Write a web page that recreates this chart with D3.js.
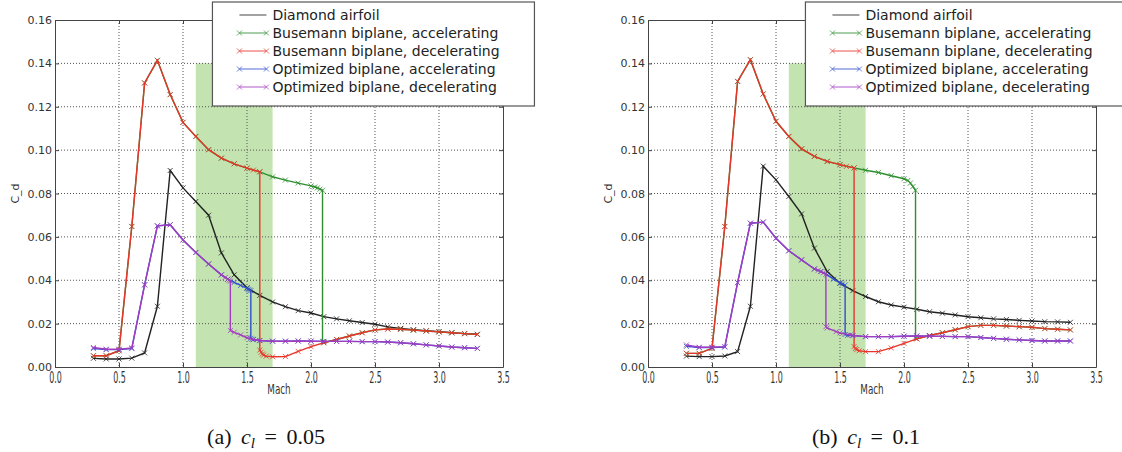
<!doctype html>
<html>
<head>
<meta charset="utf-8">
<title>Drag coefficient vs Mach</title>
<script src="https://cdnjs.cloudflare.com/ajax/libs/d3/7.8.5/d3.min.js"></script>
<style>
  body { margin: 0; background: #fff; }
  svg { display: block; font-family: "DejaVu Sans", sans-serif; }
</style>
</head>
<body>
<div id="chart-area"></div>
<script>
// ---- data ----
var xTicks = [0.0, 0.5, 1.0, 1.5, 2.0, 2.5, 3.0, 3.5];
var yTicks = [0.00, 0.02, 0.04, 0.06, 0.08, 0.10, 0.12, 0.14, 0.16];
var shadeBand = [1.1, 1.7, 0.14];   // Mach from, Mach to, Cd top

var seriesNames = ["Diamond airfoil", "Busemann biplane, accelerating", "Busemann biplane, decelerating",
                   "Optimized biplane, accelerating", "Optimized biplane, decelerating"];
var seriesColors = ["#222222", "#2f8f2f", "#e8352a", "#3050d0", "#a23cc0"];
var captions = ["(a)", "(b)"];
var captionValues = ["0.05", "0.1"];

var machSweep = [0.3,0.4,0.5,0.6,0.7,0.8,0.9,1.0,1.1,1.2,1.3,1.4,1.5,1.6,1.7,1.8,1.9,2.0,2.1,2.2,2.3,2.4,2.5,2.6,2.7,2.8,2.9,3.0,3.1,3.2,3.3];

// panel (a) cl = 0.05
var diamondA = [0.0040,0.0037,0.0037,0.0041,0.0065,0.0280,0.0906,0.0826,0.0763,0.0700,0.0526,0.0425,0.0365,0.0330,0.0300,0.0278,0.0260,0.0249,0.0232,0.0222,0.0213,0.0205,0.0197,0.0185,0.0178,0.0172,0.0167,0.0163,0.0158,0.0154,0.0151];
var busAccMachA = [0.3,0.4,0.5,0.6,0.7,0.8,0.9,1.0,1.1,1.2,1.3,1.4,1.5,1.6,1.7,1.8,1.9,2.0,2.03,2.05,2.07,2.09,2.09,2.1,2.2,2.3,2.4,2.5,2.6,2.7,2.8,2.9,3.0,3.1,3.2,3.3];
var busAccA = [0.0052,0.0052,0.0075,0.0648,0.1310,0.1414,0.1256,0.1128,0.1063,0.1002,0.0963,0.0937,0.0917,0.0900,0.0877,0.0862,0.0848,0.0835,0.0830,0.0826,0.0820,0.0815,0.0117,0.0112,0.0127,0.0143,0.0158,0.0171,0.0175,0.0174,0.0170,0.0166,0.0162,0.0158,0.0154,0.0150];
var busDecMachA = [0.3,0.4,0.5,0.6,0.7,0.8,0.9,1.0,1.1,1.2,1.3,1.4,1.5,1.55,1.6,1.6,1.61,1.62,1.63,1.65,1.7,1.8,1.9,2.0,2.1,2.2,2.3,2.4,2.5,2.6,2.7,2.8,2.9,3.0,3.1,3.2,3.3];
var busDecA = [0.0052,0.0052,0.0075,0.0648,0.1310,0.1414,0.1256,0.1128,0.1063,0.1002,0.0963,0.0937,0.0917,0.0908,0.0900,0.0078,0.0068,0.0060,0.0055,0.0050,0.0047,0.0048,0.0072,0.0094,0.0112,0.0127,0.0143,0.0158,0.0171,0.0175,0.0174,0.0170,0.0166,0.0162,0.0158,0.0154,0.0150];
var optAccMachA = [0.3,0.4,0.5,0.6,0.7,0.8,0.9,1.0,1.1,1.2,1.3,1.35,1.4,1.45,1.5,1.51,1.52,1.53,1.53,1.54,1.55,1.6,1.7,1.8,1.9,2.0,2.1,2.2,2.3,2.4,2.5,2.6,2.7,2.8,2.9,3.0,3.1,3.2,3.3];
var optAccA = [0.0085,0.0080,0.0080,0.0085,0.0379,0.0651,0.0656,0.0586,0.0528,0.0475,0.0425,0.0405,0.0390,0.0376,0.0362,0.0358,0.0355,0.0352,0.0132,0.0128,0.0126,0.0122,0.0119,0.0119,0.0120,0.0119,0.0118,0.0118,0.0118,0.0117,0.0117,0.0115,0.0112,0.0107,0.0102,0.0097,0.0092,0.0089,0.0086];
var optDecMachA = [0.3,0.4,0.5,0.6,0.7,0.8,0.9,1.0,1.1,1.2,1.3,1.33,1.35,1.36,1.37,1.37,1.4,1.45,1.5,1.55,1.6,1.7,1.8,1.9,2.0,2.1,2.2,2.3,2.4,2.5,2.6,2.7,2.8,2.9,3.0,3.1,3.2,3.3];
var optDecA = [0.0090,0.0082,0.0082,0.0088,0.0379,0.0651,0.0656,0.0586,0.0528,0.0475,0.0425,0.0413,0.0405,0.0400,0.0396,0.0168,0.0160,0.0148,0.0135,0.0127,0.0122,0.0119,0.0119,0.0120,0.0119,0.0118,0.0118,0.0118,0.0117,0.0117,0.0115,0.0112,0.0107,0.0102,0.0097,0.0092,0.0089,0.0086];

// panel (b) cl = 0.1
var diamondB = [0.0050,0.0048,0.0048,0.0051,0.0071,0.0280,0.0926,0.0863,0.0786,0.0706,0.0548,0.0440,0.0386,0.0352,0.0325,0.0301,0.0286,0.0276,0.0266,0.0255,0.0248,0.0240,0.0232,0.0227,0.0222,0.0219,0.0215,0.0212,0.0209,0.0208,0.0206];
var busAccMachB = [0.3,0.4,0.5,0.6,0.7,0.8,0.9,1.0,1.1,1.2,1.3,1.4,1.5,1.61,1.7,1.8,1.9,2.0,2.03,2.05,2.07,2.09,2.09,2.1,2.2,2.3,2.4,2.5,2.6,2.7,2.8,2.9,3.0,3.1,3.2,3.3];
var busAccB = [0.0063,0.0063,0.0086,0.0648,0.1317,0.1417,0.1259,0.1133,0.1063,0.1006,0.0971,0.0948,0.0933,0.0918,0.0907,0.0897,0.0882,0.0868,0.0860,0.0848,0.0832,0.0815,0.0132,0.0130,0.0145,0.0158,0.0172,0.0186,0.0192,0.0192,0.0189,0.0186,0.0183,0.0177,0.0174,0.0171];
var busDecMachB = [0.3,0.4,0.5,0.6,0.7,0.8,0.9,1.0,1.1,1.2,1.3,1.4,1.5,1.55,1.61,1.61,1.62,1.63,1.65,1.7,1.8,1.9,2.0,2.1,2.2,2.3,2.4,2.5,2.6,2.7,2.8,2.9,3.0,3.1,3.2,3.3];
var busDecB = [0.0063,0.0063,0.0086,0.0648,0.1317,0.1417,0.1259,0.1133,0.1063,0.1006,0.0971,0.0948,0.0933,0.0925,0.0918,0.0094,0.0085,0.0080,0.0075,0.0071,0.0071,0.0088,0.0109,0.0130,0.0145,0.0158,0.0172,0.0186,0.0192,0.0192,0.0189,0.0186,0.0183,0.0177,0.0174,0.0171];
var optAccMachB = [0.3,0.4,0.5,0.6,0.7,0.8,0.9,1.0,1.1,1.2,1.3,1.35,1.4,1.45,1.5,1.52,1.54,1.54,1.56,1.6,1.7,1.8,1.9,2.0,2.1,2.2,2.3,2.4,2.5,2.6,2.7,2.8,2.9,3.0,3.1,3.2,3.3];
var optAccB = [0.0095,0.0090,0.0090,0.0092,0.0389,0.0663,0.0668,0.0594,0.0536,0.0494,0.0452,0.0440,0.0425,0.0405,0.0388,0.0383,0.0378,0.0150,0.0146,0.0145,0.0140,0.0140,0.0140,0.0142,0.0143,0.0142,0.0141,0.0140,0.0140,0.0136,0.0132,0.0128,0.0125,0.0122,0.0120,0.0120,0.0120];
var optDecMachB = [0.3,0.4,0.5,0.6,0.7,0.8,0.9,1.0,1.1,1.2,1.3,1.33,1.35,1.37,1.39,1.39,1.4,1.47,1.5,1.58,1.6,1.7,1.8,1.9,2.0,2.1,2.2,2.3,2.4,2.5,2.6,2.7,2.8,2.9,3.0,3.1,3.2,3.3];
var optDecB = [0.0102,0.0091,0.0091,0.0094,0.0389,0.0663,0.0668,0.0594,0.0536,0.0494,0.0452,0.0446,0.0440,0.0434,0.0428,0.0186,0.0180,0.0163,0.0157,0.0148,0.0145,0.0140,0.0140,0.0140,0.0142,0.0143,0.0142,0.0141,0.0140,0.0140,0.0136,0.0132,0.0128,0.0125,0.0122,0.0120,0.0120,0.0120];

var panels = [
  { left: 55, caption: 0, capX: 266,
    series: [[machSweep, diamondA], [busAccMachA, busAccA], [busDecMachA, busDecA], [optAccMachA, optAccA], [optDecMachA, optDecA]] },
  { left: 648, caption: 1, capX: 866,
    series: [[machSweep, diamondB], [busAccMachB, busAccB], [busDecMachB, busDecB], [optAccMachB, optAccB], [optDecMachB, optDecB]] }
];

var W = 1122, H = 452;
var plotW = 448, plotTop = 20, plotBottom = 367;

var svg = d3.select("#chart-area").append("svg")
  .attr("width", W)
  .attr("height", H);

panels.forEach(function(p) {
  var h = plotBottom - plotTop;
  var x = d3.scaleLinear().domain([0, 3.5]).range([0, plotW]);
  var y = d3.scaleLinear().domain([0, 0.16]).range([h, 0]);

  var g = svg.append("g").attr("transform", "translate(" + p.left + "," + plotTop + ")");

  // shaded band
  g.append("rect")
    .attr("x", x(shadeBand[0]))
    .attr("y", y(shadeBand[2]))
    .attr("width", x(shadeBand[1]) - x(shadeBand[0]))
    .attr("height", y(0) - y(shadeBand[2]))
    .attr("fill", "#c3e4b0");

  // dotted grid
  g.selectAll(".gx").data(xTicks.slice(1, -1)).enter().append("line")
    .attr("x1", function(d) { return x(d); }).attr("x2", function(d) { return x(d); })
    .attr("y1", 0).attr("y2", h)
    .attr("stroke", "#555").attr("stroke-width", 1).attr("stroke-dasharray", "1,2");
  g.selectAll(".gy").data(yTicks.slice(1, -1)).enter().append("line")
    .attr("y1", function(d) { return y(d); }).attr("y2", function(d) { return y(d); })
    .attr("x1", 0).attr("x2", plotW)
    .attr("stroke", "#555").attr("stroke-width", 1).attr("stroke-dasharray", "1,2");

  // series
  var line = d3.line()
    .x(function(d) { return x(d[0]); })
    .y(function(d) { return y(d[1]); });

  p.series.forEach(function(s, i) {
    var pts = s[0].map(function(m, k) { return [m, s[1][k]]; });
    g.append("path")
      .attr("d", line(pts))
      .attr("fill", "none")
      .attr("stroke", seriesColors[i])
      .attr("stroke-width", 1.4);
    g.selectAll(".mk" + i).data(pts).enter().append("path")
      .attr("transform", function(d) { return "translate(" + x(d[0]) + "," + y(d[1]) + ")"; })
      .attr("d", "M-2.5,-2.5L2.5,2.5M-2.5,2.5L2.5,-2.5")
      .attr("stroke", seriesColors[i])
      .attr("stroke-width", 1)
      .attr("opacity", 0.8);
  });

  // axes, matplotlib style ticks pointing inward
  var xAxis = g.append("g").attr("transform", "translate(0," + h + ")")
    .call(d3.axisBottom(x).tickValues(xTicks).tickSize(-4).tickSizeOuter(0).tickPadding(3).tickFormat(d3.format(".1f")));
  xAxis.selectAll("text")
    .attr("transform", "scale(0.72,1.45)")
    .style("font-size", "11px")
    .attr("fill", "#333");
  g.append("g")
    .call(d3.axisTop(x).tickValues(xTicks).tickSize(-4).tickSizeOuter(0).tickFormat(""));

  var yAxis = g.append("g")
    .call(d3.axisLeft(y).tickValues(yTicks).tickSize(-4).tickSizeOuter(0).tickPadding(3).tickFormat(d3.format(".2f")));
  yAxis.selectAll("text")
    .style("font-size", "11px")
    .attr("fill", "#333");
  g.append("g").attr("transform", "translate(" + plotW + ",0)")
    .call(d3.axisRight(y).tickValues(yTicks).tickSize(-4).tickSizeOuter(0).tickFormat(""));

  g.selectAll(".domain").attr("stroke", "#444");
  g.selectAll(".tick line").attr("stroke", "#444");
  g.selectAll(".tick text").style("font-family", "'DejaVu Sans', sans-serif");

  // axis labels
  g.append("text")
    .attr("transform", "translate(" + (plotW / 2) + "," + (h + 27) + ") scale(0.8,1.25)")
    .attr("text-anchor", "middle")
    .style("font-size", "11px")
    .attr("fill", "#333")
    .text("Mach");
  g.append("text")
    .attr("transform", "translate(-36," + (y(0.08)) + ") rotate(-90)")
    .attr("text-anchor", "middle")
    .style("font-size", "11px")
    .attr("fill", "#333")
    .text("C_d");

  // legend
  var lg = g.append("g").attr("transform", "translate(" + (x(1.23)) + "," + (-18) + ")");
  lg.append("rect")
    .attr("width", 322).attr("height", 104)
    .attr("fill", "#fff")
    .attr("stroke", "#555")
    .attr("stroke-width", 1.2);
  seriesNames.forEach(function(name, i) {
    var row = lg.append("g").attr("transform", "translate(0," + (13 + i * 18) + ")");
    row.append("line")
      .attr("x1", 27).attr("x2", 54)
      .attr("stroke", seriesColors[i]).attr("stroke-width", 1.2).attr("opacity", 0.7);
    if (i > 0) {
      [27, 54].forEach(function(mx) {
        row.append("path")
          .attr("transform", "translate(" + mx + ",0)")
          .attr("d", "M-2.5,-2.5L2.5,2.5M-2.5,2.5L2.5,-2.5")
          .attr("stroke", seriesColors[i]).attr("stroke-width", 1).attr("opacity", 0.7);
      });
    }
    row.append("text")
      .attr("x", 60).attr("y", 5)
      .style("font-size", "14px")
      .attr("fill", "#222")
      .text(name);
  });

  // caption
  var cap = svg.append("text")
    .attr("x", p.capX).attr("y", 444)
    .attr("text-anchor", "middle")
    .style("font-family", "'Liberation Serif', 'DejaVu Serif', serif")
    .style("font-size", "22px")
    .style("word-spacing", "4px")
    .attr("fill", "#111");
  cap.append("tspan").text(captions[p.caption] + " ");
  cap.append("tspan").style("font-style", "italic").text("c");
  cap.append("tspan").style("font-style", "italic").style("font-size", "15px").attr("dy", 4).text("l");
  cap.append("tspan").attr("dy", -4).text(" = " + captionValues[p.caption]);
});
</script>
</body>
</html>
